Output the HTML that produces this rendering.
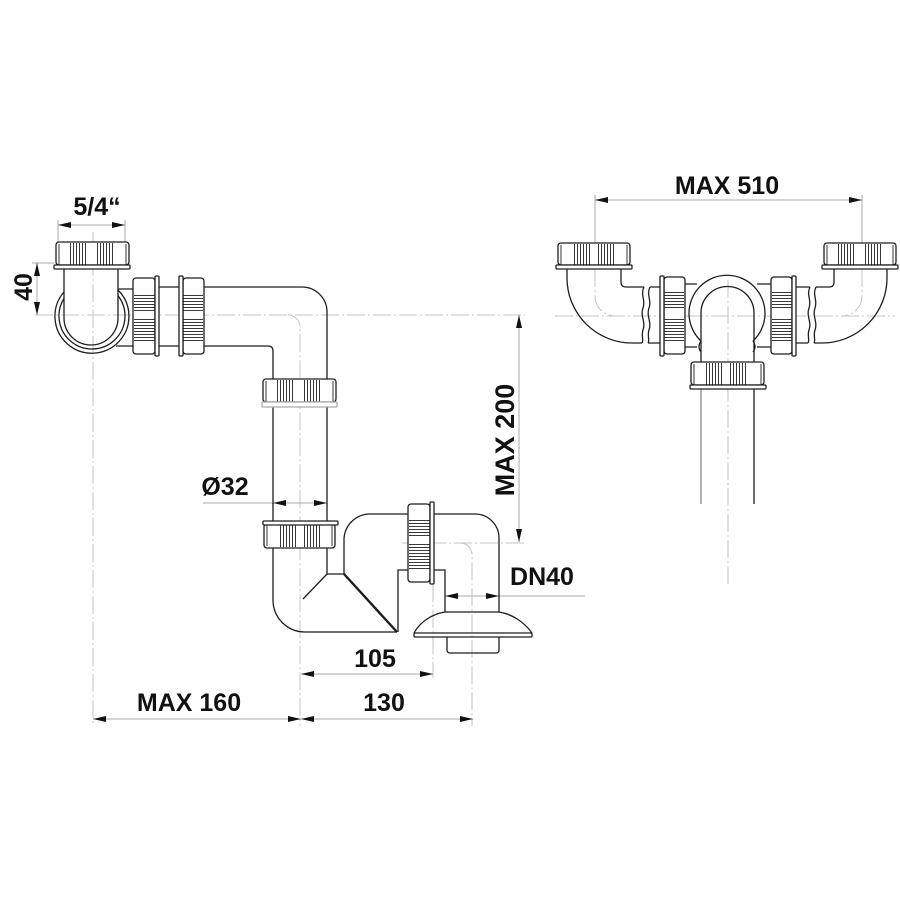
<!DOCTYPE html>
<html><head><meta charset="utf-8"><style>
html,body{margin:0;padding:0;background:#fff;}
svg{display:block;}
text{font-family:"Liberation Sans",sans-serif;font-weight:bold;font-size:25px;fill:#111;}
</style></head><body>
<svg width="900" height="899" viewBox="0 0 900 899" xmlns="http://www.w3.org/2000/svg">
<defs>
<pattern id="vs" width="3" height="6" patternUnits="userSpaceOnUse"><line x1="1.5" y1="0" x2="1.5" y2="6" stroke="#222" stroke-width="0.9"/></pattern>
<pattern id="hs" width="6" height="3" patternUnits="userSpaceOnUse"><line x1="0" y1="1.5" x2="6" y2="1.5" stroke="#222" stroke-width="0.9"/></pattern>
</defs>
<rect width="900" height="899" fill="#fff"/>

<!-- centerlines -->
<g stroke="#c4c4c4" stroke-width="1" fill="none" stroke-dasharray="18 3 2 3">
<path d="M93,232 L93,726"/>
<path d="M35,315 L525,315"/>
<path d="M288,315 A12,12 0 0 1 300,327 L300,726"/>
<path d="M402,543 L525,543"/>
<path d="M460,543 A12,12 0 0 1 472,555 L472,726"/>
<path d="M433,584 L433,678"/>
<path d="M555,316 L895,316"/>
<path d="M595,243 L595,296 A20,20 0 0 0 615,316"/>
<path d="M862,243 L862,296 A20,20 0 0 1 842,316"/>
<path d="M728,280 L728,587"/>
</g>

<!-- dimension lines -->
<g stroke="#aaa" stroke-width="1" fill="none">
<path d="M58,225 L125,225 M58,220 L58,242 M125,220 L125,242"/>
<path d="M37,263 L37,315 M32,263 L54,263"/>
<path d="M203,503 L327,503"/>
<path d="M519,315 L519,542"/>
<path d="M445,596 L585,596"/>
<path d="M301,674 L433,674"/>
<path d="M93,719 L473,719"/>
<path d="M595,200 L862,200 M595,195 L595,243 M862,195 L862,243"/>
</g>

<!-- arrows -->
<g fill="#111">
<polygon points="58,225 71,222 71,228"/><polygon points="125,225 112,222 112,228"/>
<polygon points="37,263 34,276 40,276"/><polygon points="37,315 34,302 40,302"/>
<polygon points="273,503 286,500 286,506"/><polygon points="327,503 314,500 314,506"/>
<polygon points="519,315 516,328 522,328"/><polygon points="519,542 516,529 522,529"/>
<polygon points="445,596 458,593 458,599"/><polygon points="499,596 486,593 486,599"/>
<polygon points="301,674 314,671 314,677"/><polygon points="433,674 420,671 420,677"/>
<polygon points="93,719 106,716 106,722"/><polygon points="301,719 288,716 288,722"/>
<polygon points="301,719 314,716 314,722"/><polygon points="473,719 460,716 460,722"/>
<polygon points="595,200 608,197 608,203"/><polygon points="862,200 849,197 849,203"/>
</g>

<!-- left drawing pipes -->
<g stroke="#1e1e1e" stroke-width="1.3" fill="none">
<path d="M64,269 L64,318 A27,27 0 0 0 118,318 L118,269"/>
<path d="M64,292 A37,37 0 1 0 118,290"/>
<path d="M64,298.5 A33,33 0 1 0 118,295.7"/>
<path d="M118,289 L133,289 M116,346 L133,346"/>
<path d="M159,287 L179,287 M159,346 L179,346"/>
<path d="M204,287 L302,287 A25,25 0 0 1 327,312 L327,380"/>
<path d="M204,346 L268,346 Q273,346 273,351 L273,380"/>
<path d="M273,407 L273,521 M327,407 L327,521"/>
<path d="M273,548 L273,600 A32,32 0 0 0 305,632 L397,632"/>
<path d="M327,548 L327,574 L344,574 M327,574 L303,599"/>
<path d="M344,574 L397,632" stroke-width="2.4"/>
<path d="M344,574 L344,540 A26,26 0 0 1 370,514 L408,514"/>
<path d="M434,514 L475,514 A24,24 0 0 1 499,538 L499,612"/>
<path d="M398,632 L398,570 L408,570 M434,570 L445,570 L445,612"/>
<path d="M445,612 L499,612 M445,612 C432,614 420,622 414,633 M499,612 C512,614 524,622 532,633"/>
<rect x="414" y="633" width="118" height="4" rx="1"/>
<path d="M447,637 L447,650 Q447,653 450,653 L496,653 Q499,653 499,650 L499,637"/>
</g>

<!-- right drawing pipes -->
<g stroke="#1e1e1e" stroke-width="1.3" fill="none">
<path d="M567,269 L567,278 A65,65 0 0 0 632,343 L642,343"/>
<path d="M621,269 L621,282 Q621,287 626,287 L644,287"/>
<path d="M644,287 C640,295 646,300 643,308 C640,316 646,322 643,330 C641,336 644,340 642,343"/>
<path d="M650,287 C646,295 652,300 649,308 C646,316 652,322 649,330 C647,336 650,340 648,343"/>
<path d="M650,287 L660,287 M648,343 L660,343"/>
<path d="M685,284 L697,284 M685,347 L697,347"/>
<path d="M701,341 A38,38 0 1 1 753,341"/>
<path d="M701,341 Q697,347 701,352 M753,341 Q757,347 753,352"/>
<path d="M701,362 L701,313 A26.5,26.5 0 0 1 754,313 L754,362"/>
<path d="M757,284 L771,284 M757,347 L771,347"/>
<path d="M796,287 L810,287 M796,343 L808,343"/>
<path d="M810,287 C806,295 812,300 809,308 C806,316 812,322 809,330 C807,336 810,340 808,343"/>
<path d="M816,287 C812,295 818,300 815,308 C812,316 818,322 815,330 C813,336 816,340 814,343"/>
<path d="M816,287 L829,287 Q834,287 834,282 L834,269"/>
<path d="M814,343 L822,343 A65,65 0 0 0 887,278 L887,269"/>
<path d="M754,389 L754,504"/>
<path d="M701,389 L701,504" stroke="#888"/>
</g>

<!-- vertical-axis nuts -->
<g stroke="#1e1e1e" stroke-width="1.3">
<rect x="56" y="242" width="73" height="23" rx="3" fill="#fff"/>
<rect x="70" y="243" width="18" height="22" fill="url(#vs)" stroke="none"/>
<rect x="95" y="243" width="18" height="22" fill="url(#vs)" stroke="none"/>
<path d="M59,244 L59,265 M126,244 L126,265" stroke-width="0.9"/>
<rect x="54" y="265" width="76" height="4" rx="1" fill="#fff"/>

<rect x="263" y="379" width="73" height="23" rx="3" fill="#fff"/>
<rect x="277" y="380" width="18" height="22" fill="url(#vs)" stroke="none"/>
<rect x="302" y="380" width="18" height="22" fill="url(#vs)" stroke="none"/>
<path d="M266,381 L266,402 M333,381 L333,402" stroke-width="0.9"/>
<rect x="262" y="402" width="75" height="5" rx="1" fill="#fff" stroke="#aaa"/>

<rect x="264" y="524" width="71" height="24" rx="3" fill="#fff"/>
<rect x="278" y="525" width="18" height="22" fill="url(#vs)" stroke="none"/>
<rect x="303" y="525" width="18" height="22" fill="url(#vs)" stroke="none"/>
<path d="M267,525 L267,546 M332,525 L332,546" stroke-width="0.9"/>
<rect x="263" y="521" width="75" height="4" rx="1" fill="#fff"/>

<rect x="558" y="243" width="72" height="22" rx="3" fill="#fff"/>
<rect x="572" y="244" width="18" height="21" fill="url(#vs)" stroke="none"/>
<rect x="597" y="244" width="18" height="21" fill="url(#vs)" stroke="none"/>
<path d="M561,245 L561,265 M627,245 L627,265" stroke-width="0.9"/>
<rect x="556" y="265" width="76" height="4" rx="1" fill="#fff"/>

<rect x="824" y="243" width="72" height="22" rx="3" fill="#fff"/>
<rect x="838" y="244" width="18" height="21" fill="url(#vs)" stroke="none"/>
<rect x="863" y="244" width="18" height="21" fill="url(#vs)" stroke="none"/>
<path d="M827,245 L827,265 M893,245 L893,265" stroke-width="0.9"/>
<rect x="822" y="265" width="76" height="4" rx="1" fill="#fff"/>

<rect x="691" y="362" width="73" height="23" rx="3" fill="#fff"/>
<rect x="705" y="363" width="18" height="22" fill="url(#vs)" stroke="none"/>
<rect x="730" y="363" width="18" height="22" fill="url(#vs)" stroke="none"/>
<path d="M694,364 L694,385 M761,364 L761,385" stroke-width="0.9"/>
<rect x="690" y="385" width="76" height="4" rx="1" fill="#fff"/>
</g>

<!-- horizontal-axis nuts -->
<g stroke="#1e1e1e" stroke-width="1.3">
<rect x="133" y="278" width="22" height="76" rx="3" fill="#fff"/>
<rect x="134" y="293" width="21" height="18" fill="url(#hs)" stroke="none"/>
<rect x="134" y="318" width="21" height="25" fill="url(#hs)" stroke="none"/>
<rect x="155" y="276" width="4" height="80" rx="1" fill="#fff"/>

<rect x="183" y="278" width="21" height="76" rx="3" fill="#fff"/>
<rect x="183" y="293" width="20" height="18" fill="url(#hs)" stroke="none"/>
<rect x="183" y="318" width="20" height="25" fill="url(#hs)" stroke="none"/>
<rect x="179" y="276" width="4" height="80" rx="1" fill="#fff"/>

<rect x="408" y="504" width="22" height="78" rx="3" fill="#fff"/>
<rect x="409" y="519" width="21" height="18" fill="url(#hs)" stroke="none"/>
<rect x="409" y="544" width="21" height="25" fill="url(#hs)" stroke="none"/>
<rect x="430" y="502" width="4" height="82" rx="1" fill="#fff"/>

<rect x="664" y="277" width="21" height="77" rx="3" fill="#fff"/>
<rect x="664" y="292" width="20" height="18" fill="url(#hs)" stroke="none"/>
<rect x="664" y="317" width="20" height="25" fill="url(#hs)" stroke="none"/>
<rect x="660" y="276" width="4" height="80" rx="1" fill="#fff"/>

<rect x="771" y="277" width="21" height="77" rx="3" fill="#fff"/>
<rect x="772" y="292" width="20" height="18" fill="url(#hs)" stroke="none"/>
<rect x="772" y="317" width="20" height="25" fill="url(#hs)" stroke="none"/>
<rect x="792" y="276" width="4" height="80" rx="1" fill="#fff"/>
</g>

<!-- labels -->
<text x="97" y="215" text-anchor="middle">5/4“</text>
<text transform="translate(32,287) rotate(-90)" text-anchor="middle">40</text>
<text x="225" y="495" text-anchor="middle">Ø32</text>
<text transform="translate(514,440) rotate(-90)" text-anchor="middle" style="font-size:27px">MAX 200</text>
<text x="542" y="585" text-anchor="middle">DN40</text>
<text x="375" y="667" text-anchor="middle">105</text>
<text x="189" y="711" text-anchor="middle">MAX 160</text>
<text x="384" y="711" text-anchor="middle">130</text>
<text x="727" y="194" text-anchor="middle">MAX 510</text>
</svg>
</body></html>
